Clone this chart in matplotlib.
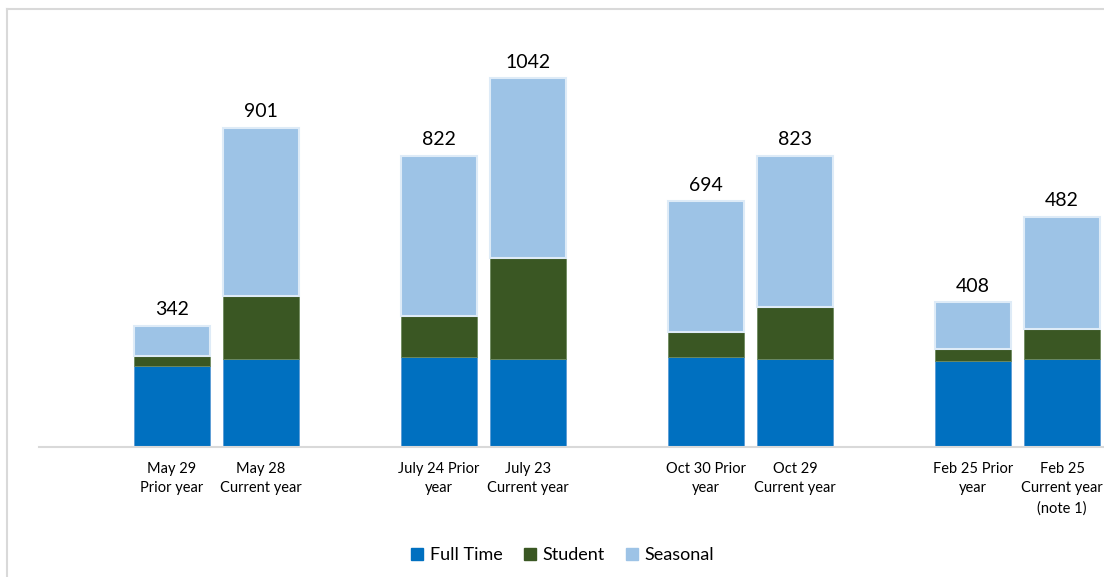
import matplotlib.pyplot as plt
from matplotlib.patches import Patch
from matplotlib.lines import Line2D
import numpy as np

plt.rcParams['font.family'] = ['Lato', 'DejaVu Sans']

# data
labels = ["May 29\nPrior year", "May 28\nCurrent year",
          "July 24 Prior\nyear", "July 23\nCurrent year",
          "Oct 30 Prior\nyear", "Oct 29\nCurrent year",
          "Feb 25 Prior\nyear", "Feb 25\nCurrent year\n(note 1)"]
full_time = [229, 249, 253, 248, 252, 247, 243, 247]
student = [27, 177, 115, 285, 72, 149, 34, 85]
seasonal = [86, 475, 454, 509, 370, 427, 131, 318]
# printed totals (the last one does not match its drawn bar in the source)
totals = [342, 901, 822, 1042, 694, 823, 408, 482]

COLORS = {"Full Time": "#0070C0", "Student": "#3A5723", "Seasonal": "#9DC3E6"}

# two bars per group, one empty slot between groups
xpos = np.array([0, 1, 3, 4, 6, 7, 9, 10])
W = 0.85
STEP = 89.0  # px per slot

fig = plt.figure(figsize=(11.04, 5.77), dpi=100)
ax = fig.add_axes([39/1104, 1 - 446.5/577, 1 - 39/1104, (446.5 - 9)/577])

ft = np.array(full_time)
st = np.array(student)
se = np.array(seasonal)
ax.bar(xpos, ft, W, color=COLORS["Full Time"], edgecolor="#5B9BD5", linewidth=0.6)
ax.bar(xpos, st, W, bottom=ft, color=COLORS["Student"], edgecolor="#6E8A5E", linewidth=0.6)
ax.bar(xpos, se, W, bottom=ft + st, color=COLORS["Seasonal"], edgecolor="#DEEBF7", linewidth=1.5)

tops = ft + st + se
for x, top, t in zip(xpos, tops, totals):
    ax.annotate(str(t), (x, top), xytext=(0, 5.5), textcoords="offset points",
                ha="center", va="bottom", fontsize=14, color="#000000")

ax.set_xlim((39 - 172)/STEP, (1104 - 172)/STEP)
ax.set_ylim(0, (446.5 - 9)*2.83)

ax.set_xticks(xpos)
ax.set_xticklabels(labels, fontsize=10.5, linespacing=1.5)
ax.tick_params(axis="x", length=0, pad=11)
ax.set_yticks([])
for s in ["top", "right", "left"]:
    ax.spines[s].set_visible(False)
ax.spines["bottom"].set_color("#D9D9D9")
ax.spines["bottom"].set_linewidth(1.5)

# chart frame (top and left edges show in the picture)
fig.add_artist(Line2D([7/1104, 1], [1 - 9/577, 1 - 9/577], transform=fig.transFigure,
                      color="#D9D9D9", lw=1.5))
fig.add_artist(Line2D([7/1104, 7/1104], [0, 1 - 9/577], transform=fig.transFigure,
                      color="#D9D9D9", lw=1.5))

handles = [Patch(facecolor=c, edgecolor=c, label=k) for k, c in COLORS.items()]
fig.legend(handles=handles, loc="center", bbox_to_anchor=(563/1104, 1 - 555/577),
           ncol=3, frameon=False, fontsize=13, handlelength=0.65, handleheight=0.65,
           handletextpad=0.4, columnspacing=1.15)

fig.savefig("out.png", dpi=100)
